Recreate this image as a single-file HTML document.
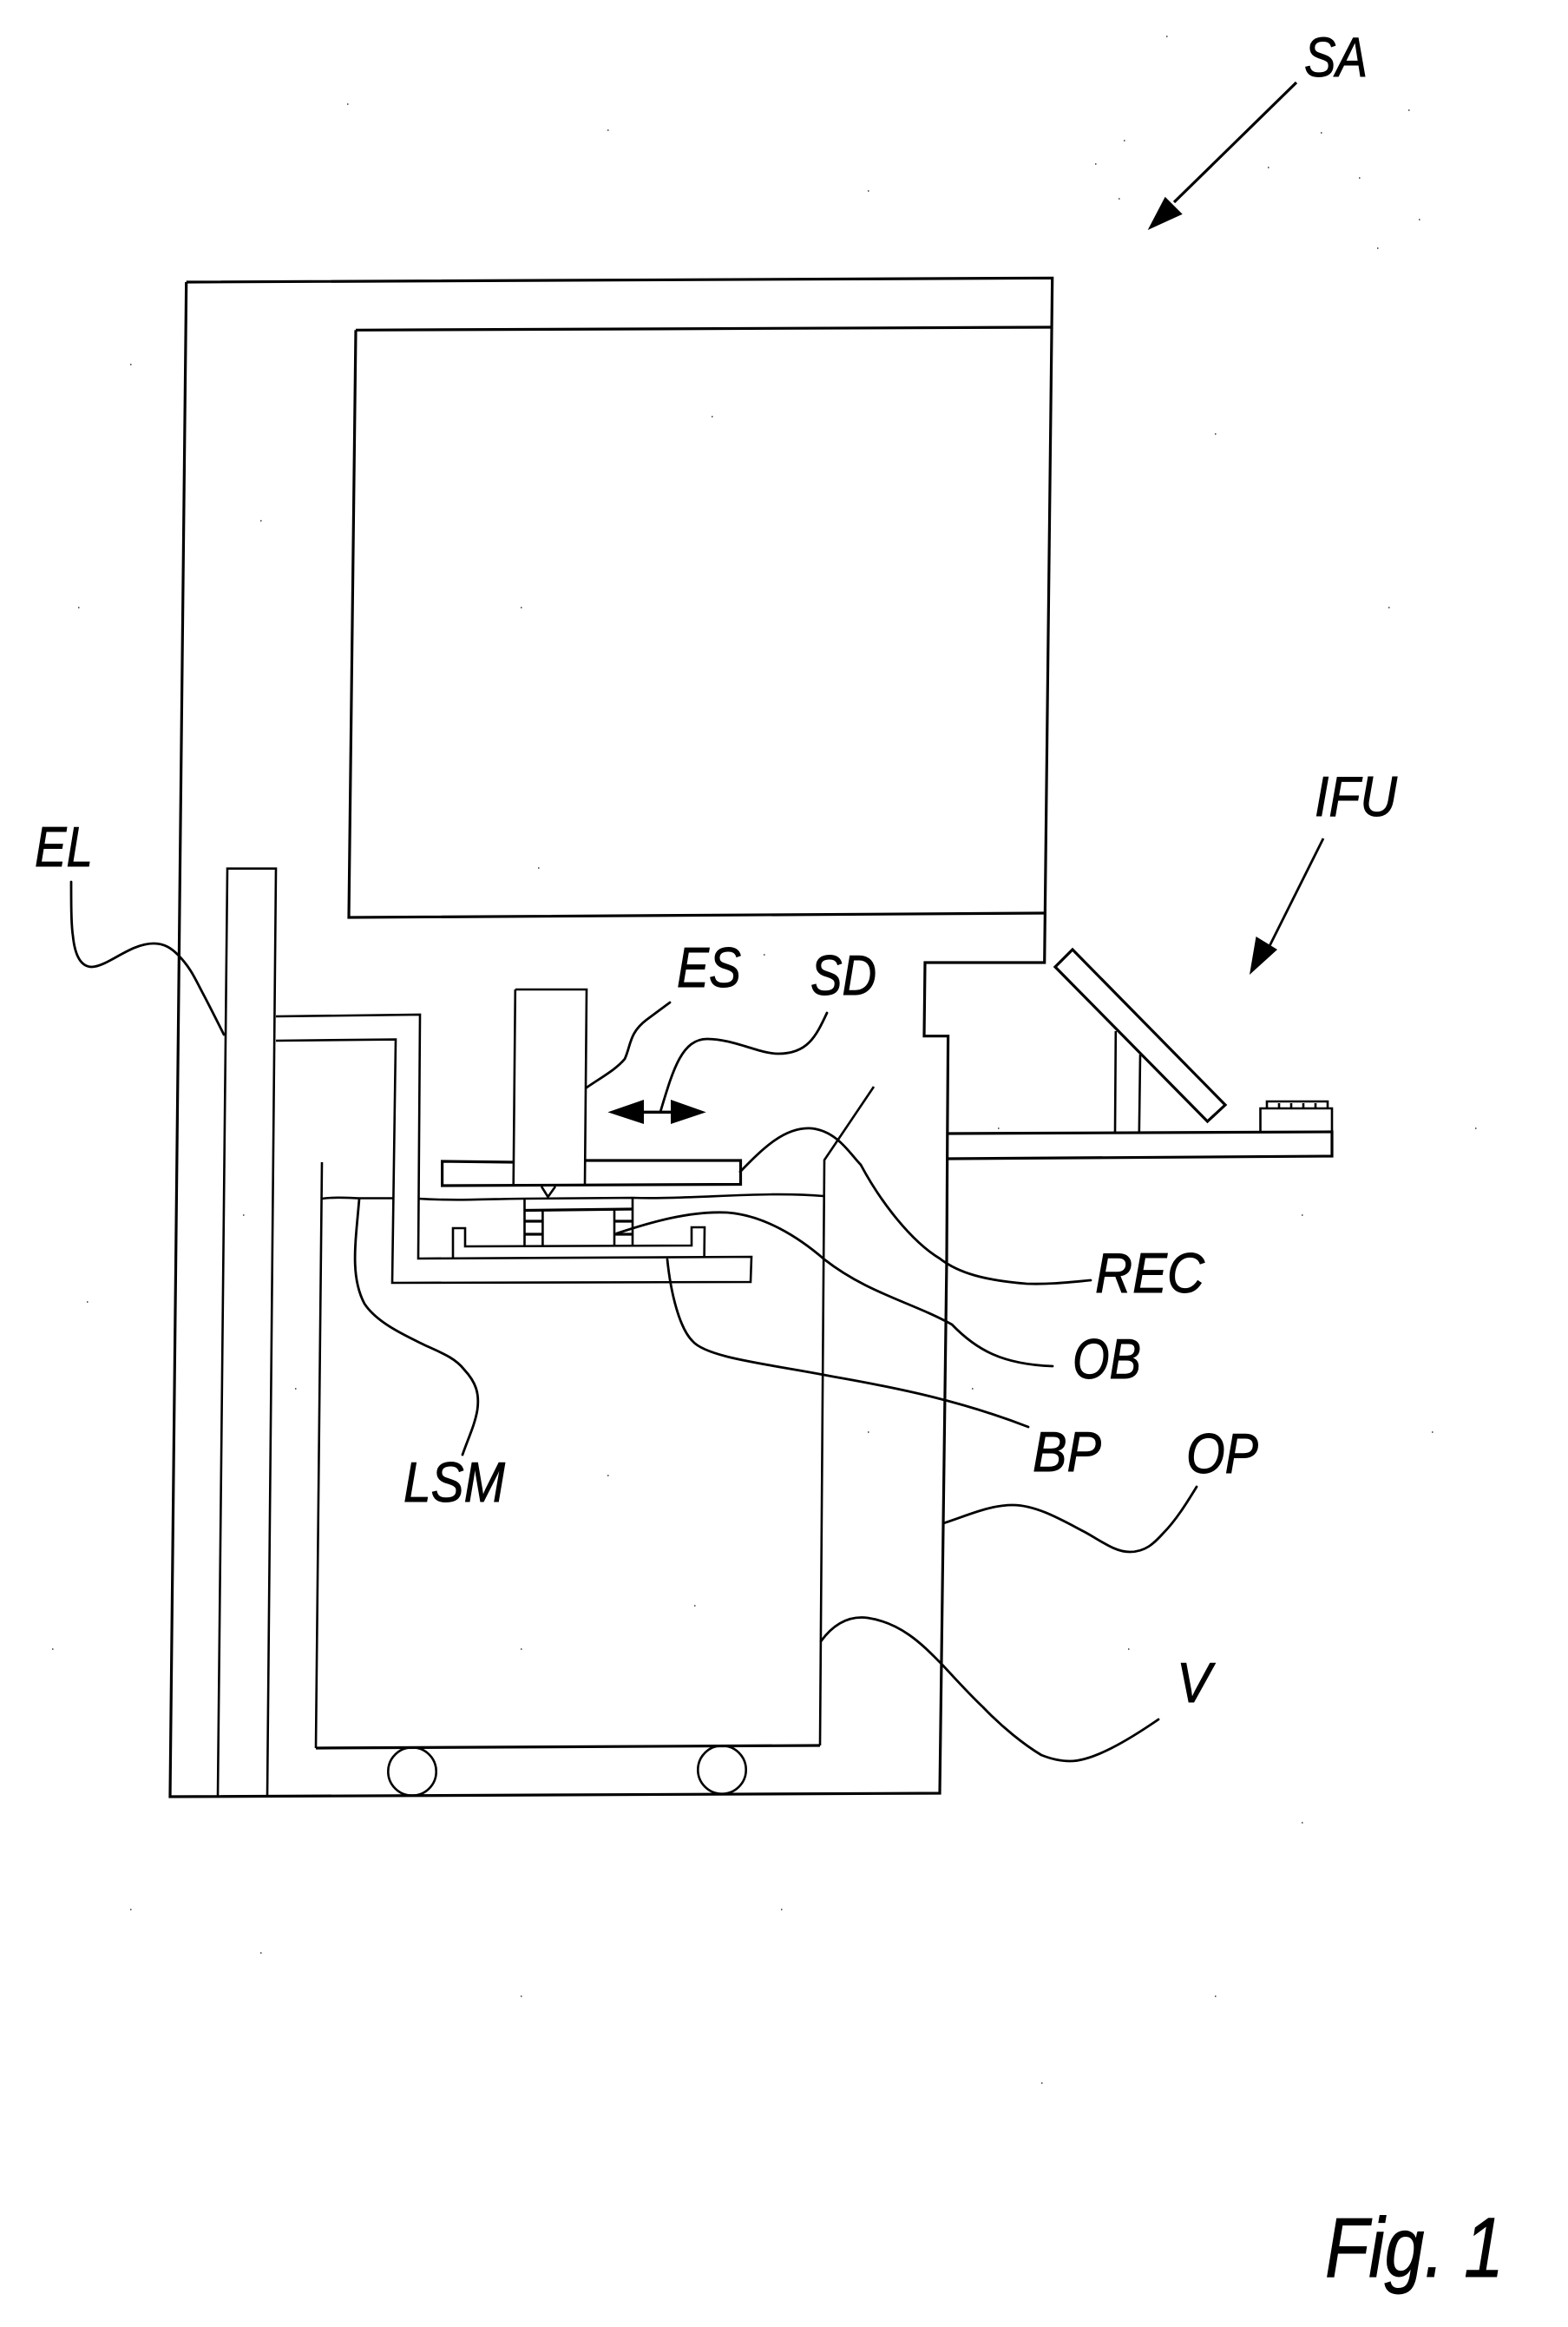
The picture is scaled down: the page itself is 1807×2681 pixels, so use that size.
<!DOCTYPE html>
<html><head><meta charset="utf-8"><style>
html,body{margin:0;padding:0;background:#fff;width:1807px;height:2681px;overflow:hidden}
svg{display:block}
text{font-family:"Liberation Sans",Arial,sans-serif;font-style:italic;fill:#000;stroke:#000;stroke-width:.9}
.t{stroke:#000;stroke-width:2.6;fill:none;stroke-linejoin:miter}
.m{stroke:#000;stroke-width:3.2;fill:none;stroke-linejoin:miter}
.l{stroke:#000;stroke-width:2.8;fill:none;stroke-linecap:round}
</style></head><body>
<svg width="1807" height="2681" viewBox="0 0 1807 2681" xmlns="http://www.w3.org/2000/svg">
<!-- outer housing -->
<path class="m" d="M214.7,325 L1212.7,320.3 L1203.7,1109 L1066,1109 L1065,1193.7 L1092.6,1193.7 L1091.8,1306 L1535,1304 L1535,1332 L1091.8,1335 M1091.8,1306 L1091,1450 L1083,2066 L196,2070 L214.7,325"/>
<!-- big inner box -->
<path class="m" d="M410,380.3 L1212,377 M410,380.3 L402,1057 L1204,1052"/>
<!-- column EL -->
<path class="t" d="M251,2070 L262,1000.7 L318,1000.7 L308,2070"/>
<!-- arm -->
<path class="t" d="M318,1171 L484,1169 L482,1450 L866,1448 L865,1477 L452,1478 L456,1197.6 L318,1199"/>
<!-- carriage V -->
<path class="t" d="M371,1339 L364,2014 M945,2011 L950,1336.5 L1007,1252"/>
<path class="m" d="M364,2014 L945,2011"/>
<!-- liquid -->
<path class="t" d="M371,1381 C385,1379 400,1380 414,1380.5 L454,1380.5 M482,1381 C530,1384 570,1381 604,1381 L729,1380 C800,1382 880,1372 949,1378"/>
<!-- rollers -->
<circle class="t" cx="475" cy="2041" r="27.7"/>
<circle class="t" cx="832" cy="2039" r="27.7"/>
<!-- REC + ES -->
<path class="m" d="M592,1339 L509.6,1338 L509.6,1366 L853.5,1364.5 L853.5,1337 L674,1337"/>
<path class="t" d="M593.8,1140 L676,1140 L674,1366 M593.8,1140 L591.7,1366"/>
<path class="t" d="M624,1367 L631.5,1379 L640,1367"/>
<!-- object -->
<path class="t" d="M604.5,1381 L604.5,1435 M729,1380 L729,1435 M625.4,1394 L625.4,1435 M708,1393 L708,1435"/>
<path class="m" d="M604.5,1394.5 L729,1393 M604.5,1407 L625,1407 M604.5,1422 L625,1422 M708,1407 L729,1407 M708,1422 L729,1422"/>
<!-- dish -->
<path class="t" d="M522,1449 L522,1415 L536,1415 L536,1436 L797,1435 L797,1414 L812,1414 L811.6,1448"/>
<!-- double arrow -->
<path d="M700.4,1281.4 L742,1267 L742,1295 Z M813.7,1281.4 L773,1267 L773,1295 Z" fill="#000"/>
<path d="M740,1281.4 L775,1281.4" stroke="#000" stroke-width="3.5"/>
<!-- monitor -->
<path class="m" d="M1236,1094 L1216,1114 L1391.5,1292 L1412,1273 Z"/>
<path class="t" d="M1285.8,1188 L1285,1305 M1314,1215 L1312.8,1305"/>
<!-- control box -->
<path class="t" d="M1452.5,1304 L1452.5,1277 L1535,1277 L1535,1304"/>
<path class="t" d="M1460,1277 L1460,1269 L1530,1269 L1530,1277 M1474,1271 L1474,1276 M1488,1271 L1488,1276 M1502,1271 L1502,1276 M1516,1271 L1516,1276"/>
<!-- SA arrow -->
<path d="M1494,95 L1353,233" stroke="#000" stroke-width="3.2"/>
<path d="M1322.7,265 L1342.7,226.7 L1362.7,246.7 Z" fill="#000"/>
<!-- IFU arrow -->
<path d="M1525,966 L1458,1100" stroke="#000" stroke-width="2.8"/>
<path d="M1440,1123 L1447.5,1079 L1472,1094 Z" fill="#000"/>
<!-- leaders -->
<path class="l" d="M82,1016 C82,1040 82,1065 84,1078 C86,1098 92,1114 106,1114 C125,1113 150,1087 177,1087 C190,1087 198,1093 205,1100 C220,1115 226,1130 233,1143 C242,1160 250,1176 258,1192"/>
<path class="l" d="M953,1167 C940,1195 930,1214 897,1214 C875,1214 845,1197 815,1197 C785,1197 775,1235 761,1281"/>
<path class="l" d="M772,1155 L745,1175 C725,1190 727,1205 720,1220 C710,1232 695,1240 676,1253"/>
<path class="l" d="M853,1350 C880,1322 905,1298 935,1300 C965,1303 980,1330 992,1342 C1015,1385 1050,1430 1083,1450 C1105,1467 1135,1475 1183,1479 C1210,1480 1235,1477 1257,1475"/>
<path class="l" d="M711,1421 C750,1408 795,1395 838,1397 C880,1400 920,1425 950,1451 C1000,1490 1050,1500 1097,1526 C1125,1555 1155,1572 1213,1574"/>
<path class="l" d="M769,1451 C773,1490 783,1530 798,1545 C815,1565 890,1572 960,1586 C1040,1600 1110,1615 1185,1644"/>
<path class="l" d="M414,1381 C410,1430 403,1470 420,1502 C435,1525 470,1540 490,1550 C510,1559 525,1565 535,1578 C548,1592 553,1605 550,1625 C547,1642 540,1656 533,1676"/>
<path class="l" d="M1087,1755 C1115,1746 1140,1734 1167,1734 C1195,1734 1225,1752 1250,1765 C1270,1776 1285,1788 1302,1788 C1320,1788 1330,1778 1340,1767 C1355,1752 1368,1731 1379,1713"/>
<path class="l" d="M946,1891 C965,1865 985,1862 1000,1864 C1040,1870 1065,1897 1085,1917 C1100,1933 1115,1950 1133,1967 C1155,1990 1180,2010 1200,2022 C1215,2028 1225,2029 1233,2029 C1260,2029 1300,2005 1335,1981"/>
<!-- labels -->
<text x="1503" y="88" font-size="64" textLength="73" lengthAdjust="spacingAndGlyphs">SA</text>
<text x="1515" y="940" font-size="65" textLength="95" lengthAdjust="spacingAndGlyphs">IFU</text>
<text x="40" y="998" font-size="65" textLength="67" lengthAdjust="spacingAndGlyphs">EL</text>
<text x="780" y="1137" font-size="65" textLength="74" lengthAdjust="spacingAndGlyphs">ES</text>
<text x="934" y="1146" font-size="65" textLength="76" lengthAdjust="spacingAndGlyphs">SD</text>
<text x="1262" y="1489" font-size="65" textLength="126" lengthAdjust="spacingAndGlyphs">REC</text>
<text x="1236" y="1588" font-size="65" textLength="79" lengthAdjust="spacingAndGlyphs">OB</text>
<text x="1190" y="1695" font-size="65" textLength="79" lengthAdjust="spacingAndGlyphs">BP</text>
<text x="1367" y="1697" font-size="65" textLength="83" lengthAdjust="spacingAndGlyphs">OP</text>
<text x="465" y="1730" font-size="65" textLength="117" lengthAdjust="spacingAndGlyphs">LSM</text>
<text x="1356" y="1961" font-size="65" textLength="40" lengthAdjust="spacingAndGlyphs">V</text>
<text x="1527" y="2623" font-size="97" textLength="206" lengthAdjust="spacingAndGlyphs">Fig. 1</text>
<!-- speckle -->
<path stroke="#333" stroke-width="1.5" fill="none" d="M1344,42h1.5M1295,162h1.5M1262,189h1.5M1289,229h1.5M1461,193h1.5M1522,153h1.5M1566,205h1.5M1623,127h1.5M1635,253h1.5M1587,286h1.5M600,700h1.5M820,480h1.5M300,600h1.5M150,420h1.5M90,700h1.5M1000,220h1.5M700,150h1.5M400,120h1.5M1400,500h1.5M1600,700h1.5M1500,1400h1.5M1650,1650h1.5M1700,1300h1.5M1300,1900h1.5M1500,2100h1.5M900,2200h1.5M600,2300h1.5M300,2250h1.5M1200,2400h1.5M1400,2300h1.5M100,1500h1.5M60,1900h1.5M150,2200h1.5M700,1700h1.5M800,1850h1.5M600,1900h1.5M1000,1650h1.5M1150,1300h1.5M1120,1600h1.5M280,1400h1.5M340,1600h1.5M620,1000h1.5M880,1100h1.5"/>
</svg>
</body></html>
